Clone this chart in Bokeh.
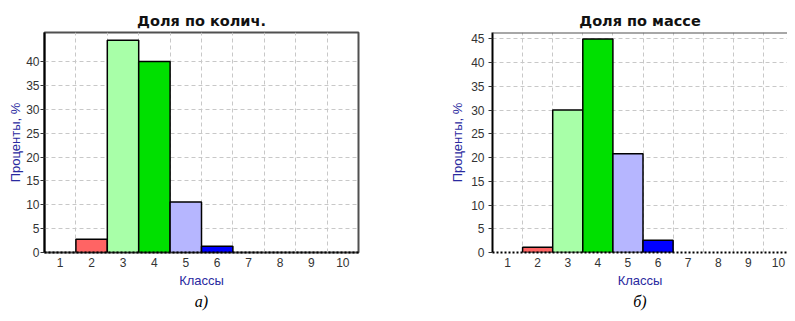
from bokeh.plotting import figure
from bokeh.layouts import row
from bokeh.models import ColumnDataSource, FixedTicker, Title, Span, Range1d
from bokeh.embed import file_html
from bokeh.resources import INLINE

# ---- data ----
classes = [1, 2, 3, 4, 5, 6, 7, 8, 9, 10]
share_count = [0, 2.8, 44.5, 40.0, 10.6, 1.3, 0, 0, 0, 0]
share_mass = [0, 1.1, 30.0, 45.0, 20.8, 2.6, 0, 0, 0, 0]
class_colors = ["#FFFF80", "#FF6464", "#A8FFA8", "#00E000", "#B6B6FF",
                "#0000FF", "#808080", "#808080", "#808080", "#808080"]
ticks_count = [0, 5, 10, 15, 20, 25, 30, 35, 40]
ticks_mass = [0, 5, 10, 15, 20, 25, 30, 35, 40, 45]
x_label = "Классы"
y_label = "Проценты, %"

LABEL_BLUE = "#2A2AA0"
FIG_H = 314


def make_fig(title, caption, values, x_end, y_end, yticks, width,
             mbl, mbr, mbt, title_standoff, ylab_standoff, yaxis_standoff,
             outline):
    p = figure(width=width, height=FIG_H,
               x_range=Range1d(0.5, x_end), y_range=Range1d(0, y_end),
               output_backend="svg", toolbar_location=None,
               min_border_left=mbl, min_border_right=mbr,
               min_border_top=mbt, min_border_bottom=62,
               background_fill_color="white", border_fill_color="white")
    p.title.text = title
    p.title.align = "center"
    p.title.text_font = "DejaVu Sans"
    p.title.text_font_style = "bold"
    p.title.text_font_size = "14.5px"
    p.title.text_color = "#111111"
    p.title.standoff = title_standoff

    keep = [i for i, v in enumerate(values) if v > 0]
    src = ColumnDataSource(dict(
        x=[classes[i] for i in keep],
        top=[values[i] for i in keep],
        color=[class_colors[i] for i in keep],
    ))
    p.vbar(x="x", top="top", width=1.0, source=src, fill_color="color",
           line_color="black", line_width=1.5)

    p.xaxis.ticker = FixedTicker(ticks=classes)
    p.xgrid.ticker = FixedTicker(ticks=[c + 0.5 for c in classes[:-1]])
    p.yaxis.ticker = FixedTicker(ticks=yticks)

    for g in (p.xgrid, p.ygrid):
        g.grid_line_color = "#C8C8C8"
        g.grid_line_dash = "4 3"
        g.grid_line_width = 1

    p.xaxis.axis_line_color = "black"
    p.xaxis.axis_line_width = 2
    p.xaxis.axis_line_dash = "2 2"
    p.xaxis.major_tick_line_color = None
    p.xaxis.major_tick_out = 0
    p.xaxis.major_tick_in = 0
    p.xaxis.minor_tick_line_color = None
    p.xaxis.major_label_standoff = 5
    p.xaxis.major_label_text_font = "Liberation Sans"
    p.xaxis.major_label_text_font_size = "12px"
    p.xaxis.major_label_text_color = "#333333"
    p.xaxis.axis_label = x_label
    p.xaxis.axis_label_text_font = "Liberation Sans"
    p.xaxis.axis_label_text_font_size = "13px"
    p.xaxis.axis_label_text_font_style = "normal"
    p.xaxis.axis_label_text_color = LABEL_BLUE
    p.xaxis.axis_label_standoff = 3

    p.yaxis.axis_line_color = "black"
    p.yaxis.axis_line_width = 2
    p.yaxis.major_tick_line_color = "#333333"
    p.yaxis.major_tick_out = 4
    p.yaxis.major_tick_in = 0
    p.yaxis.minor_tick_line_color = None
    p.yaxis.major_label_standoff = yaxis_standoff
    p.yaxis.major_label_text_font = "Liberation Sans"
    p.yaxis.major_label_text_font_size = "12px"
    p.yaxis.major_label_text_color = "#333333"
    p.yaxis.axis_label = y_label
    p.yaxis.axis_label_text_font = "Liberation Sans"
    p.yaxis.axis_label_text_font_size = "13px"
    p.yaxis.axis_label_text_font_style = "normal"
    p.yaxis.axis_label_text_color = LABEL_BLUE
    p.yaxis.axis_label_standoff = ylab_standoff

    if outline:
        p.outline_line_color = "#505050"
        p.outline_line_width = 2
    else:
        p.outline_line_color = None
        p.add_layout(Span(location=y_end, dimension="width",
                          line_color="#505050", line_width=2))

    cap = Title(text=caption, align="center", text_font="Liberation Serif",
                text_font_style="italic", text_font_size="16px",
                text_color="black", standoff=0)
    p.add_layout(cap, "below")
    return p


p1 = make_fig("Доля по колич.", "а)", share_count, 10.5, 46.1, ticks_count,
              430, 44, 72, 29, 7, 0, 1, True)
p2 = make_fig("Доля по массе", "б)", share_mass, 10.3, 46.35, ticks_mass,
              357, 62, 0, 32, 8, 3, 4, False)

layout = row(p1, p2)
open("out.html", "w").write(file_html(layout, INLINE))
